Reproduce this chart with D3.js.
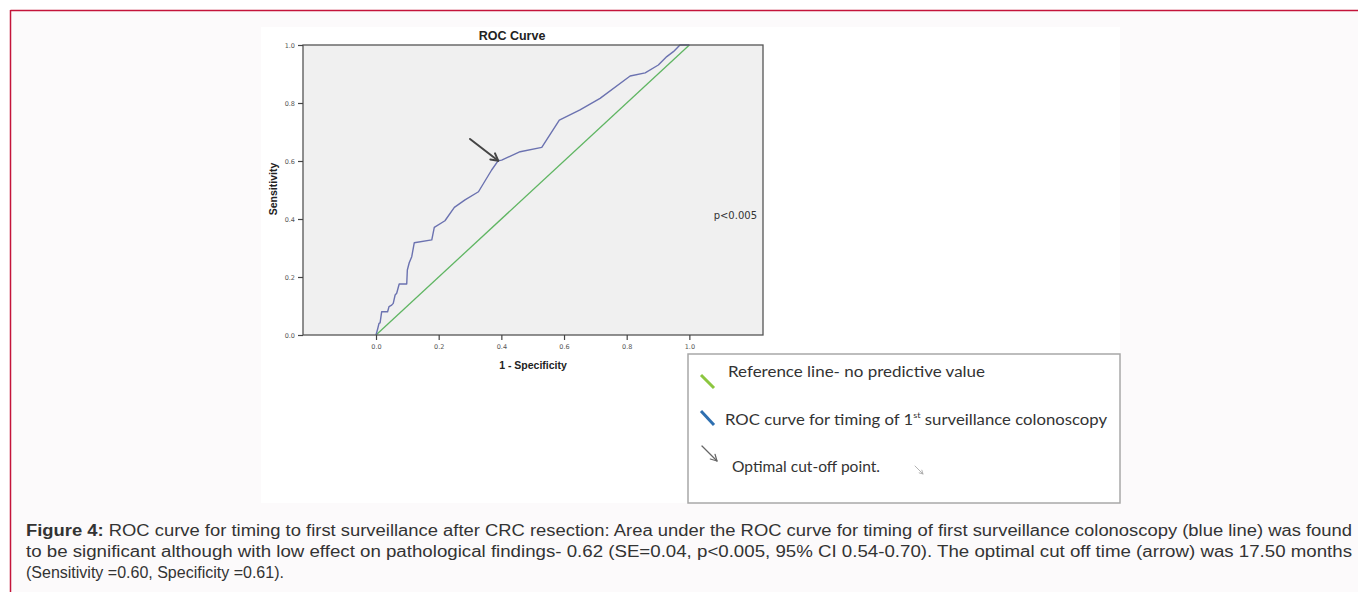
<!DOCTYPE html>
<html><head><meta charset="utf-8">
<script src="https://cdn.jsdelivr.net/npm/d3@7"></script>
<style>body{margin:0;background:#fff;} svg{display:block}</style>
</head><body>
<svg id="c" width="1358" height="592"></svg>
<script>
// ---------- data ----------
const rocFpr = [0, 0.005, 0.0096, 0.013, 0.018, 0.037, 0.0415, 0.050, 0.055, 0.061, 0.066, 0.074, 0.098, 0.100, 0.106, 0.114, 0.122, 0.178, 0.186, 0.220, 0.250, 0.284, 0.327, 0.369, 0.390, 0.401, 0.460, 0.529, 0.585, 0.651, 0.715, 0.811, 0.859, 0.901, 0.928, 0.949, 0.970, 1.0];
const rocTpr = [0, 0.020, 0.040, 0.042, 0.080, 0.080, 0.098, 0.103, 0.109, 0.138, 0.144, 0.176, 0.176, 0.224, 0.249, 0.270, 0.318, 0.328, 0.371, 0.394, 0.440, 0.466, 0.494, 0.569, 0.601, 0.603, 0.632, 0.647, 0.741, 0.776, 0.816, 0.893, 0.904, 0.931, 0.960, 0.977, 1.0, 1.0];
const refFpr = [0, 1];
const refTpr = [0, 1];
const cutoffArrowFpr = [0.300, 0.390];
const cutoffArrowTpr = [0.676, 0.601];
const xTicks = [0, 0.2, 0.4, 0.6, 0.8, 1.0];
const yTicks = [0, 0.2, 0.4, 0.6, 0.8, 1.0];
const chartTitle = "ROC Curve";
const xTitle = "1 - Specificity";
const yTitle = "Sensitivity";
const pNote = "p<0.005";
const legendLabels = ["Reference line- no predictive value", "ROC curve for timing of 1", "Optimal cut-off point."];
const captionBold = "Figure 4:";
const captionLines = [
  " ROC curve for timing to first surveillance after CRC resection: Area under the ROC curve for timing of first surveillance colonoscopy (blue line) was found",
  "to be significant although with low effect on pathological findings- 0.62 (SE=0.04, p<0.005, 95% CI 0.54-0.70). The optimal cut off time (arrow) was 17.50 months",
  "(Sensitivity =0.60, Specificity =0.61)."
];

// ---------- drawing ----------
const svg = d3.select("#c");
svg.append("rect").attr("x",10).attr("y",10).attr("width",1360).attr("height",600).attr("fill","#fcfafb");
svg.append("line").attr("x1",10.5).attr("x2",1358).attr("y1",10.5).attr("y2",10.5).attr("stroke","#c4143a").attr("stroke-width",1.5);
svg.append("line").attr("x1",10.5).attr("x2",10.5).attr("y1",10).attr("y2",592).attr("stroke","#c4143a").attr("stroke-width",1.5);
svg.append("rect").attr("x",261).attr("y",27).attr("width",859).attr("height",476).attr("fill","#ffffff");

const L = 303, R = 763, T = 45, B = 335;
const x = d3.scaleLinear().domain([-0.233, 1.235]).range([L, R]);
const y = d3.scaleLinear().domain([0, 1]).range([B, T]);

svg.append("rect").attr("x",L).attr("y",T).attr("width",R-L).attr("height",B-T).attr("fill","#f0f0f0");

const line = d3.line().x(d=>x(d[0])).y(d=>y(d[1]));
svg.append("path").datum(d3.zip(refFpr, refTpr)).attr("d", line)
  .attr("fill","none").attr("stroke","#5fb562").attr("stroke-width",1.3);
svg.append("path").datum(d3.zip(rocFpr, rocTpr)).attr("d", line)
  .attr("fill","none").attr("stroke","#6b72b0").attr("stroke-width",1.4).attr("stroke-linejoin","round");

svg.append("rect").attr("x",L).attr("y",T).attr("width",R-L).attr("height",B-T)
  .attr("fill","none").attr("stroke","#555").attr("stroke-width",1.3);

const xa = svg.append("g").attr("transform",`translate(0,${B})`)
  .call(d3.axisBottom(x).tickValues(xTicks).tickFormat(d3.format(".1f")).tickSize(5).tickPadding(4));
const ya = svg.append("g").attr("transform",`translate(${L},0)`)
  .call(d3.axisLeft(y).tickValues(yTicks).tickFormat(d3.format(".1f")).tickSize(5).tickPadding(3));
[xa, ya].forEach(g=>{
  g.select(".domain").remove();
  g.selectAll(".tick line").attr("stroke","#444").attr("stroke-width",1.2);
  g.selectAll(".tick text").attr("fill","#555").attr("font-family","DejaVu Sans, sans-serif").attr("font-size",6.5);
});

svg.append("text").attr("x",512).attr("y",40).attr("text-anchor","middle")
  .attr("font-family","Liberation Sans, Arial, sans-serif").attr("font-weight","bold").attr("font-size",12.5).attr("fill","#222").text(chartTitle);
svg.append("text").attr("x",533).attr("y",369).attr("text-anchor","middle")
  .attr("font-family","Liberation Sans, Arial, sans-serif").attr("font-weight","bold").attr("font-size",10.5).attr("fill","#222").text(xTitle);
svg.append("text").attr("transform","translate(277,189) rotate(-90)").attr("text-anchor","middle")
  .attr("font-family","Liberation Sans, Arial, sans-serif").attr("font-weight","bold").attr("font-size",10.5).attr("fill","#222").text(yTitle);
svg.append("text").attr("x",757).attr("y",219).attr("text-anchor","end")
  .attr("font-family","DejaVu Sans, sans-serif").attr("font-size",10).attr("fill","#333").text(pNote);

function arrow(g, x1, y1, x2, y2, color, w, head) {
  g.append("line").attr("x1",x1).attr("y1",y1).attr("x2",x2).attr("y2",y2)
    .attr("stroke",color).attr("stroke-width",w).attr("stroke-linecap","round");
  const a = Math.atan2(y2-y1, x2-x1);
  const p = [-0.5, 0.5].map(s => [x2 - head*Math.cos(a+s), y2 - head*Math.sin(a+s)]);
  g.append("path").attr("d",`M${p[0][0]},${p[0][1]}L${x2},${y2}L${p[1][0]},${p[1][1]}`)
    .attr("fill","none").attr("stroke",color).attr("stroke-width",w).attr("stroke-linecap","round").attr("stroke-linejoin","round");
}
arrow(svg, x(cutoffArrowFpr[0]), y(cutoffArrowTpr[0]), x(cutoffArrowFpr[1]), y(cutoffArrowTpr[1]), "#454545", 2, 8);

// legend
svg.append("rect").attr("x",688).attr("y",354).attr("width",432).attr("height",149)
  .attr("fill","#fff").attr("stroke","#a8a8a8").attr("stroke-width",1.5);
svg.append("line").attr("x1",701).attr("y1",375).attr("x2",714).attr("y2",388).attr("stroke","#8cc63f").attr("stroke-width",3);
svg.append("line").attr("x1",701).attr("y1",411).attr("x2",714).attr("y2",425).attr("stroke","#2e6fb0").attr("stroke-width",3);
arrow(svg, 702, 446, 717, 461, "#666", 1.2, 7);
arrow(svg, 915, 466, 923, 474, "#aaa", 0.9, 4);
const lf = "Lato, Carlito, sans-serif";
svg.append("text").attr("x",728).attr("y",377).attr("font-family",lf).attr("font-size",14.5).attr("fill","#333")
  .attr("textLength",257).attr("lengthAdjust","spacingAndGlyphs").text(legendLabels[0]);
const t2 = svg.append("text").attr("x",725).attr("y",425).attr("font-family",lf).attr("font-size",14.5).attr("fill","#333")
  .attr("textLength",382).attr("lengthAdjust","spacingAndGlyphs");
t2.append("tspan").text(legendLabels[1]);
t2.append("tspan").attr("dy",-7).attr("font-size",8).text("st");
t2.append("tspan").attr("dy",7).text(" surveillance colonoscopy");
svg.append("text").attr("x",732).attr("y",471.5).attr("font-family",lf).attr("font-size",14.5).attr("fill","#333")
  .attr("textLength",148).attr("lengthAdjust","spacingAndGlyphs").text(legendLabels[2]);

// caption: first two lines fill the width, last line natural
const cf = "Liberation Sans, Arial, sans-serif";
const capX = 26, capRight = 1352;
const capY = [536, 557, 578];
captionLines.forEach((s,i)=>{
  const t = svg.append("text").attr("x",capX).attr("y",capY[i]).attr("font-family",cf).attr("font-size",16).attr("fill","#333");
  if (i===0) t.append("tspan").attr("font-weight","bold").text(captionBold);
  t.append("tspan").text(s);
  if (i < captionLines.length - 1) {
    t.attr("textLength", capRight - capX).attr("lengthAdjust","spacingAndGlyphs");
  }
});
</script>
</body></html>
